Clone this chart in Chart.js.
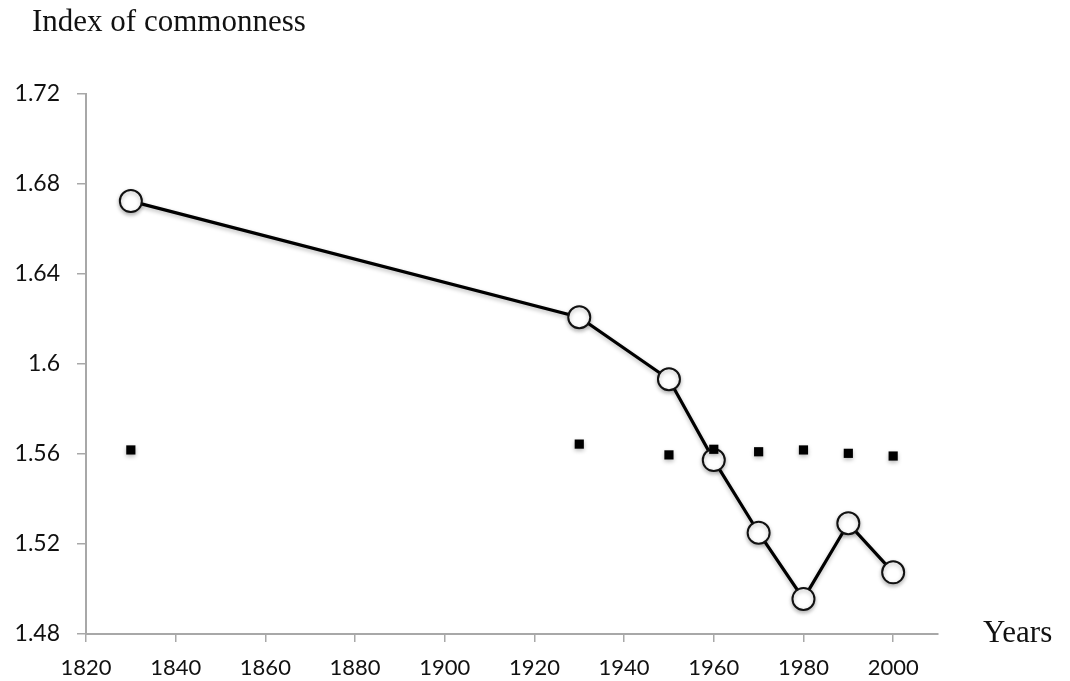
<!DOCTYPE html>
<html>
<head>
<meta charset="utf-8">
<script src="https://cdn.jsdelivr.net/npm/chart.js@4/dist/chart.umd.min.js"></script>
<style>
html,body{margin:0;padding:0;background:#fff;}
#wrap{width:1070px;height:681px;}
</style>
</head>
<body>
<div id="wrap"><canvas id="c" width="1070" height="681"></canvas></div>
<script>
const years = [1830, 1930, 1950, 1960, 1970, 1980, 1990, 2000];
const observedIndex = [1.6724, 1.6208, 1.5932, 1.5573, 1.5250, 1.4956, 1.5292, 1.5074];
const expectedIndex = [1.5618, 1.5644, 1.5596, 1.5621, 1.5610, 1.5618, 1.5603, 1.5591];
const xTickLabels = ['1820','1840','1860','1880','1900','1920','1940','1960','1980','2000'];
const yTickLabels = ['1.48','1.52','1.56','1.6','1.64','1.68','1.72'];
const yAxisTitle = 'Index of commonness';
const xAxisTitle = 'Years';

const serifFont = '"Liberation Serif", "Times New Roman", serif';
const sansFont = 'Lato, "Open Sans", sans-serif';

const textPlugin = {
  id: 'axisTexts',
  afterDraw(chart) {
    const ctx = chart.ctx;
    ctx.save();
    ctx.fillStyle = '#111';
    ctx.font = '31px ' + serifFont;
    ctx.textBaseline = 'alphabetic';
    ctx.textAlign = 'left';
    ctx.fillText(yAxisTitle, 32, 31);
    ctx.fillText(xAxisTitle, 983, 642);
    ctx.restore();
  }
};

const shadowPlugin = {
  id: 'markerShadow',
  beforeDatasetDraw(chart) {
    const ctx = chart.ctx;
    ctx.save();
    ctx.shadowColor = 'rgba(0,0,0,0.28)';
    ctx.shadowBlur = 4;
    ctx.shadowOffsetX = 0;
    ctx.shadowOffsetY = 2;
  },
  afterDatasetDraw(chart) {
    chart.ctx.restore();
  }
};

new Chart(document.getElementById('c'), {
  type: 'line',
  data: {
    datasets: [
      {
        label: 'observed',
        data: years.map((y, i) => ({x: y, y: observedIndex[i]})),
        borderColor: '#000',
        borderWidth: 3.2,
        pointStyle: 'circle',
        pointRadius: 11,
        pointBorderWidth: 2,
        pointBackgroundColor: '#fff',
        pointBorderColor: '#111',
        showLine: true,
        order: 1
      },
      {
        label: 'expected',
        data: years.map((y, i) => ({x: y, y: expectedIndex[i]})),
        showLine: false,
        pointStyle: 'rect',
        pointRadius: 6.5,
        pointBorderWidth: 0,
        pointBackgroundColor: '#000',
        pointBorderColor: '#000',
        order: 0
      }
    ]
  },
  options: {
    responsive: false,
    animation: false,
    events: [],
    layout: {padding: {top: 94, right: 132, left: 0, bottom: 0}},
    plugins: {legend: {display: false}, tooltip: {enabled: false}, title: {display: false}},
    scales: {
      x: {
        type: 'linear',
        min: 1820,
        max: 2010,
        afterFit(s) { s.height = 47; },
        border: {color: '#a8a8a8', width: 2},
        grid: {drawOnChartArea: false, drawTicks: true, tickLength: 8, color: '#a8a8a8', lineWidth: 1.5},
        ticks: {
          stepSize: 20,
          includeBounds: false,
          padding: 13,
          color: '#111',
          font: {family: sansFont, size: 22},
          maxRotation: 0,
          autoSkip: false,
          callback: (v) => { const i = (v - 1820) / 20; return Number.isInteger(i) ? xTickLabels[i] : ''; }
        }
      },
      y: {
        type: 'linear',
        min: 1.48,
        max: 1.72,
        afterFit(s) { s.width = 86; },
        afterBuildTicks(s) { s.ticks = yTickLabels.map(t => ({value: parseFloat(t)})); },
        border: {color: '#a8a8a8', width: 2},
        grid: {drawOnChartArea: false, drawTicks: true, tickLength: 9, color: '#a8a8a8', lineWidth: 1.5},
        ticks: {
          padding: 17,
          color: '#111',
          font: {family: sansFont, size: 23},
          callback: (v, i) => yTickLabels[i]
        }
      }
    }
  },
  plugins: [textPlugin, shadowPlugin]
});
</script>
</body>
</html>
